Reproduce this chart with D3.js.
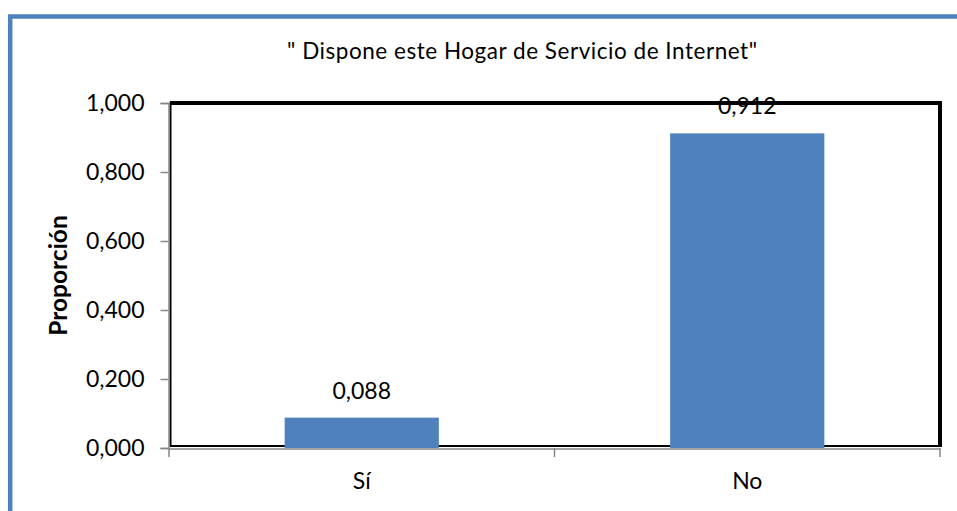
<!DOCTYPE html>
<html><head><meta charset="utf-8">
<script src="https://cdn.jsdelivr.net/npm/d3@7"></script>
<style>html,body{margin:0;padding:0;background:#fff;overflow:hidden}</style>
</head><body>
<svg id="c" width="957" height="511"></svg>
<script>
const categories = ["Sí", "No"];
const values = [0.088, 0.912];
const yTicks = [0, 0.2, 0.4, 0.6, 0.8, 1.0];
const title = "\" Dispone este Hogar de Servicio de Internet\"";
const yTitle = "Proporción";

const fmt = v => d3.format(".3f")(v).replace(".", ",");
const svg = d3.select("#c");
const FONT = "Lato, 'Open Sans', sans-serif";

// outer frame
svg.append("rect").attr("x", 10.2).attr("y", 16.5).attr("width", 1000).attr("height", 600)
  .attr("fill", "none").attr("stroke", "#4F81BD").attr("stroke-width", 4.5);

const L = 169, R = 940, T = 103, B = 448;
const x = d3.scaleBand().domain(categories).range([L, R]).paddingInner(0.6).paddingOuter(0.3);
const y = d3.scaleLinear().domain([0, 1]).range([B, T]);

// plot area border
svg.append("rect").attr("x", 170.5).attr("y", T).attr("width", R - 170.5).attr("height", 446 - T)
  .attr("fill", "#fff").attr("stroke", "#000").attr("stroke-width", 2);
svg.append("path").attr("d", `M170,${T}H${R}V447`).attr("fill", "none")
  .attr("stroke", "#000").attr("stroke-width", 4);

// bars
svg.selectAll("rect.bar").data(values).join("rect").attr("class", "bar")
  .attr("x", (d, i) => x(categories[i])).attr("width", x.bandwidth())
  .attr("y", d => y(d)).attr("height", d => y(0) - y(d))
  .attr("fill", "#4F81BD");

// axes
const ya = svg.append("g").attr("transform", `translate(${L - 0.5},0)`)
  .call(d3.axisLeft(y).tickValues(yTicks).tickSize(8).tickPadding(16).tickFormat(fmt));
ya.select(".domain").attr("stroke", "#868686").attr("stroke-width", 1.5);
ya.selectAll(".tick line").attr("stroke", "#868686").attr("stroke-width", 1.5);
ya.selectAll("text").attr("font-family", FONT).attr("font-size", 23).attr("fill", "#000");

const xa = svg.append("g").attr("transform", `translate(0,${B + 0.5})`)
  .call(d3.axisBottom(x).tickSize(0).tickPadding(24));
xa.select(".domain").attr("stroke", "#868686").attr("stroke-width", 1.5);
xa.selectAll("text").attr("font-family", FONT).attr("font-size", 23).attr("fill", "#000");
// category boundary ticks
const bounds = [L, (x(categories[0]) + x.bandwidth() + x(categories[1])) / 2, R];
svg.selectAll("line.xt").data(bounds).join("line").attr("class", "xt")
  .attr("x1", d => d).attr("x2", d => d).attr("y1", B).attr("y2", B + 9)
  .attr("stroke", "#868686").attr("stroke-width", 1.5);

// data labels
svg.selectAll("text.dl").data(values).join("text").attr("class", "dl")
  .attr("x", (d, i) => x(categories[i]) + x.bandwidth() / 2)
  .attr("y", d => y(d) - 19)
  .attr("text-anchor", "middle").attr("font-family", FONT).attr("font-size", 23)
  .text(d => fmt(d));

// title
svg.append("text").attr("x", 522).attr("y", 59).attr("text-anchor", "middle")
  .attr("font-family", FONT).attr("font-size", 22.5)
  .attr("textLength", 470).attr("lengthAdjust", "spacing").text(title);

// y title
svg.append("text").attr("transform", `translate(67,${(T + B) / 2}) rotate(-90)`)
  .attr("text-anchor", "middle").attr("font-family", FONT).attr("font-size", 24.5)
  .attr("font-weight", "bold").text(yTitle);
</script>
</body></html>
